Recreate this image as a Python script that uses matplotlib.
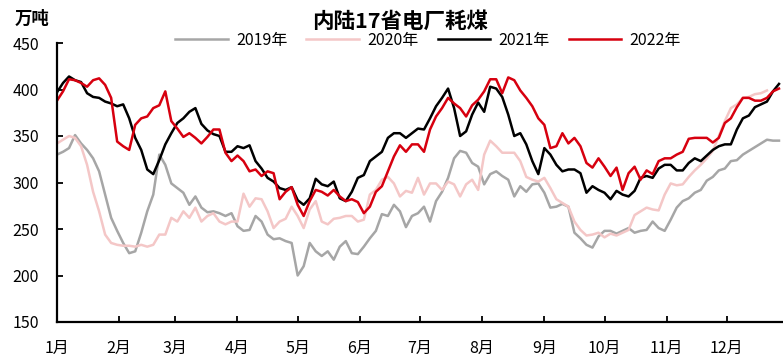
import numpy as np
import matplotlib
matplotlib.use("Agg")
import matplotlib.pyplot as plt

plt.rcParams['font.family'] = ['Noto Sans CJK SC', 'DejaVu Sans']

# Day-of-year sample positions (every 3 days)
days = np.arange(0, 361, 3)

month_starts = [0, 31, 59, 90, 120, 151, 181, 212, 243, 273, 304, 334]
month_labels = ['1月', '2月', '3月', '4月', '5月', '6月',
                '7月', '8月', '9月', '10月', '11月', '12月']

# Daily coal burn, 10k tonnes
coal_2019 = [330, 333, 337, 351, 342, 335, 326, 312, 287, 262, 248, 235, 224, 226, 246, 269, 287, 330, 319, 299, 294, 289, 276, 285, 273,
             268, 269, 267, 264, 267, 253, 248, 249, 264, 258, 244, 239, 240, 237, 235, 200, 210, 235, 226, 221, 226, 217, 231, 237,
             224, 223, 231, 240, 248, 266, 264, 276, 269, 252, 264, 267, 274, 258, 280, 290, 305, 326, 334, 332, 321, 317, 298, 309,
             312, 307, 303, 285, 296, 290, 298, 299, 289, 273, 274, 277, 274, 246, 240, 233, 230, 242, 248, 248, 245, 248, 251, 246,
             248, 249, 258, 251, 248, 260, 273, 280, 283, 289, 292, 302, 306, 313, 315, 323, 324, 330, 334, 338, 342, 346, 345, 345]

coal_2020 = [342, 346, 350, 348, 339, 319, 290, 269, 244, 235, 233, 232, 232, 231, 233, 231, 233, 244, 244, 262, 258, 269, 262, 273, 258,
             264, 267, 258, 255, 258, 258, 288, 274, 283, 282, 269, 251, 258, 261, 274, 264, 251, 271, 280, 258, 255, 261, 262, 264,
             264, 258, 260, 287, 292, 303, 306, 299, 285, 291, 289, 305, 287, 299, 299, 292, 301, 298, 285, 298, 303, 292, 330, 345,
             339, 332, 332, 332, 323, 306, 303, 301, 305, 294, 282, 278, 274, 258, 249, 243, 244, 246, 241, 245, 243, 246, 249, 265,
             269, 273, 271, 270, 287, 299, 297, 298, 306, 313, 319, 326, 334, 350, 366, 380, 384, 391, 392, 395, 396, 399]

coal_2021 = [397, 407, 414, 410, 408, 396, 392, 391, 387, 385, 382, 384, 369, 348, 335, 314, 309, 324, 341, 353, 364, 369, 376, 380, 363,
             356, 352, 350, 333, 333, 339, 337, 340, 323, 315, 305, 301, 294, 292, 295, 281, 276, 283, 304, 298, 296, 301, 283, 280,
             290, 305, 308, 323, 328, 333, 348, 353, 353, 348, 353, 358, 357, 369, 382, 391, 401, 380, 350, 355, 373, 386, 376, 403,
             401, 392, 373, 350, 353, 341, 323, 309, 337, 330, 319, 312, 314, 314, 310, 289, 296, 292, 289, 282, 291, 287, 285, 291,
             305, 307, 305, 315, 319, 319, 313, 313, 321, 326, 323, 329, 335, 339, 341, 341, 357, 369, 372, 381, 384, 387, 398, 406]

coal_2022 = [388, 398, 411, 410, 407, 403, 410, 412, 405, 391, 344, 339, 335, 362, 369, 371, 380, 383, 398, 366, 358, 349, 353, 348, 342,
             349, 357, 357, 332, 323, 329, 323, 312, 314, 307, 312, 310, 282, 290, 295, 276, 264, 280, 292, 290, 286, 292, 285, 280,
             282, 279, 267, 274, 290, 296, 312, 328, 340, 333, 341, 341, 333, 357, 371, 380, 391, 385, 380, 371, 383, 389, 398, 411,
             411, 396, 413, 410, 399, 391, 382, 369, 362, 337, 339, 353, 342, 348, 339, 321, 316, 326, 317, 307, 316, 292, 310, 317,
             303, 313, 309, 323, 326, 326, 330, 333, 347, 348, 348, 348, 343, 348, 364, 369, 381, 391, 391, 388, 388, 391, 398, 401]

series = [
    ('2019年', coal_2019, '#A6A6A6'),
    ('2020年', coal_2020, '#F4C7C7'),
    ('2021年', coal_2021, '#000000'),
    ('2022年', coal_2022, '#D7000F'),
]

fig = plt.figure(figsize=(7.83, 3.57), dpi=100)
ax = fig.add_axes([57 / 783, 1 - 322 / 357, 1 - 57 / 783, (322 - 43) / 357])

for label, vals, color in series:
    ax.plot(days[:len(vals)], vals, color=color, lw=1.8, label=label,
            solid_joinstyle='round')

ax.set_xlim(0, 362)
ax.set_ylim(150, 450)
ax.set_yticks([150, 200, 250, 300, 350, 400, 450])
ax.set_xticks(month_starts)
ax.set_xticklabels(month_labels)

for side in ('top', 'right'):
    ax.spines[side].set_visible(False)
for side in ('left', 'bottom'):
    ax.spines[side].set_linewidth(1.6)
    ax.spines[side].set_color('black')

ax.tick_params(axis='y', direction='in', length=4, width=1.3, pad=13, labelsize=11.5)
ax.tick_params(axis='x', direction='in', length=4, width=1.3, pad=13, labelsize=11.5)

fig.text(32 / 783, 1 - 19 / 357, '万吨', ha='center', va='center',
         fontsize=12.5, fontweight='bold')
fig.text(400 / 783, 1 - 21 / 357, '内陆17省电厂耗煤', ha='center', va='center',
         fontsize=15.5, fontweight='bold')

fig.legend(loc='center', bbox_to_anchor=(428 / 783, 1 - 40 / 357), ncol=4,
           frameon=False, fontsize=11.5, handlelength=3.3, handletextpad=0.5,
           columnspacing=1.2, borderpad=0, borderaxespad=0)

fig.savefig('out.png', dpi=100)
